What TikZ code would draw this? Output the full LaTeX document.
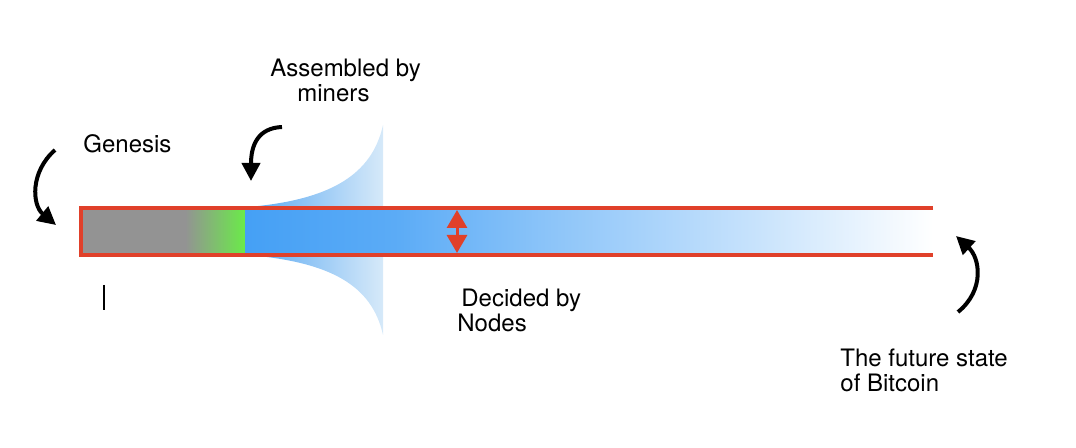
\documentclass[tikz,border=0pt]{standalone}
\usepackage{fontspec}
\setmainfont{TeX Gyre Heros}
\usepackage{xcolor}
\usetikzlibrary{positioning, arrows.meta, calc}

\definecolor{chainred}{HTML}{E0402A}
\definecolor{chaingray}{HTML}{939393}
\definecolor{chaingreen}{HTML}{6AEC48}
\definecolor{chainblue}{HTML}{45A0F5}
\definecolor{fanblue}{HTML}{5AA9F2}
\definecolor{fanpale}{HTML}{D6E9F9}

% stops between 25bp and 75bp, that is the part tikz fits to the path
\pgfdeclarehorizontalshading{chainfade}{100bp}{
  color(0bp)=(chainblue); color(25bp)=(chainblue);
  color(36bp)=(chainblue!88!white); color(47bp)=(chainblue!62!white);
  color(62bp)=(chainblue!30!white); color(75bp)=(white);
  color(100bp)=(white)}

\begin{document}
\begin{tikzpicture}[
  x=0.5pt, y=-0.5pt,
  lbl/.style={font=\fontsize{12}{12.5}\selectfont, align=left, anchor=west, inner sep=0pt},
  curlarrow/.style={line width=2pt, -{Triangle[length=9pt, width=9pt]}},
  rim/.style={line width=2pt, chainred}
]
\useasboundingbox (0,0) rectangle (1076,448);

% Fan behind the chain
\shade[left color=fanblue, right color=fanpale]
  (248,207) .. controls (330,200) and (372,175) .. (383,125)
  -- (383,335) .. controls (372,285) and (330,262) .. (248,255) -- cycle;

% The chain itself
\fill[chaingray] (81,208) rectangle (186,255);
\shade[left color=chaingray, right color=chaingreen] (185,208) rectangle (246,255);
\shade[shading=chainfade] (245,208) rectangle (933,255);
\draw[rim] (933,208) -- (81,208) -- (81,255) -- (933,255);

% Block size, decided by nodes
\coordinate (wtop) at (457,210);
\coordinate (wbot) at (457,253);
\draw[chainred, line width=1.5pt, {Triangle[length=9pt, width=10pt]}-{Triangle[length=9pt, width=10pt]}] (wtop) -- (wbot);

% Labels
\node[lbl] (genesis) at (83,144) {Genesis};
\node[lbl] (miners) at (270,80) {Assembled by\\\hspace*{13.5pt}miners};
\node[lbl] (nodes) at (457,310) {\hspace*{2pt}Decided by\\Nodes};
\node[lbl] (future) at (840,370) {The future state\\of Bitcoin};

% Curved pointers
\coordinate (gs) at (55,150);
\coordinate (gt) at (56,225);
\draw[curlarrow] (gs) .. controls (30,172) and (32,205) .. (gt);
\coordinate (ms) at (282,127);
\coordinate (mt) at (251,181);
\draw[curlarrow] (ms) .. controls (258,128) and (251,145) .. (mt);
\coordinate (fs) at (958,312);
\coordinate (ft) at (956,236);
\draw[curlarrow] (fs) .. controls (985,290) and (980,258) .. (ft);

% Tick under the chain
\coordinate (ta) at (104,285);
\coordinate (tb) at (104,310);
\draw[line width=1pt] (ta) -- (tb);

\end{tikzpicture}
\end{document}
